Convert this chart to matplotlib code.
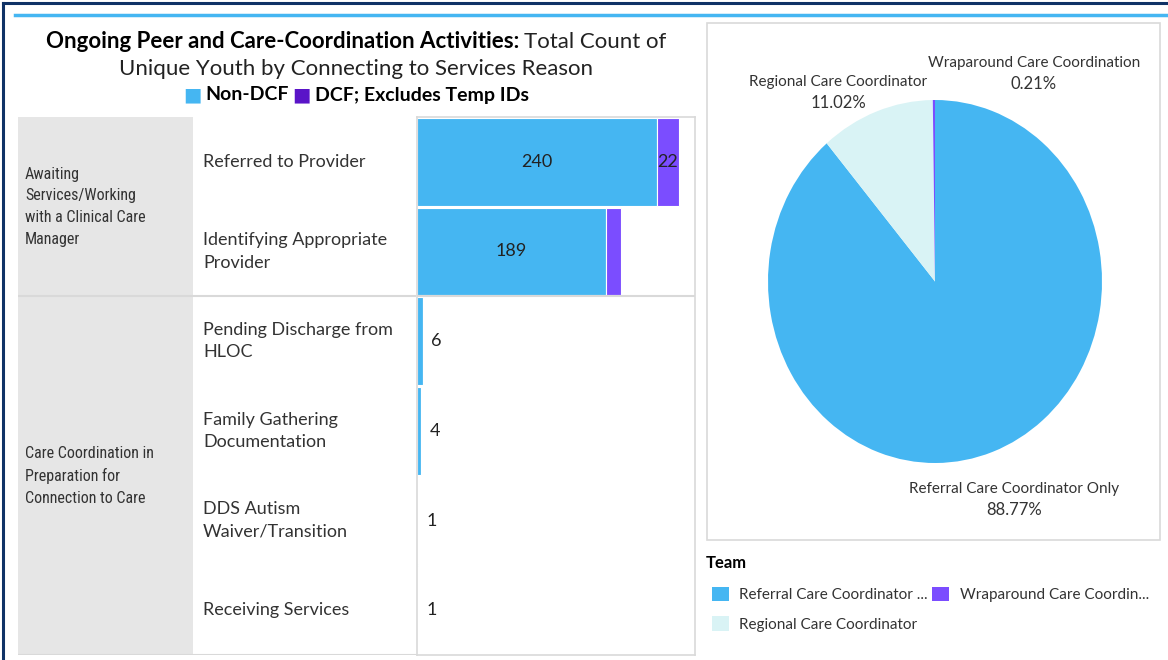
import matplotlib
matplotlib.use("Agg")
import matplotlib.pyplot as plt
from matplotlib.patches import Rectangle, Patch
from matplotlib.lines import Line2D
import numpy as np

# ---------------- data ----------------
categories = ['Referred to Provider', 'Identifying Appropriate\nProvider',
              'Pending Discharge from\nHLOC', 'Family Gathering\nDocumentation',
              'DDS Autism\nWaiver/Transition', 'Receiving Services']
groups = ['Awaiting\nServices/Working\nwith a Clinical Care\nManager',
          'Care Coordination in\nPreparation for\nConnection to Care']
group_sizes = [2, 4]
non_dcf = [240, 189, 6, 4, 1, 1]
dcf = [22, 15, 0, 0, 0, 0]

pie_labels = ['Referral Care Coordinator Only', 'Regional Care Coordinator',
              'Wraparound Care Coordination']
pie_pct = [88.77, 11.02, 0.21]
legend_labels = ['Referral Care Coordinator ...', 'Regional Care Coordinator',
                 'Wraparound Care Coordin...']

# ---------------- style ----------------
BLUE = '#45b6f2'
PURPLE = '#7b4dff'
DARKPURPLE = '#5a14c8'
LIGHT = '#d9f3f5'
GRAY = '#e6e6e6'
LINE = '#d9d9d9'
TXT = '#333333'
NAVY = '#0f3266'
FONT = ['Lato', 'DejaVu Sans']
NARROW = ['Roboto Condensed', 'Open Sans Condensed', 'DejaVu Sans']
plt.rcParams['font.family'] = FONT

W, H = 1168, 660
fig = plt.figure(figsize=(W / 100, H / 100), dpi=100)
fig.patch.set_facecolor('white')


def fy(y):
    return 1 - y / H


def fxx(x):
    return x / W


def add_ax(x0, y0, x1, y1, **kw):
    return fig.add_axes([x0 / W, 1 - y1 / H, (x1 - x0) / W, (y1 - y0) / H], **kw)


# ---------------- frame lines ----------------
fig.add_artist(Line2D([fxx(3), fxx(3)], [0, fy(3)], color=NAVY, lw=2.2))
fig.add_artist(Line2D([fxx(3), 1], [fy(3), fy(3)], color=NAVY, lw=2.2))
fig.add_artist(Line2D([fxx(15), 1], [fy(15), fy(15)], color=BLUE, lw=2.5))

# ---------------- title ----------------
renderer = fig.canvas.get_renderer()


def centered_line(pieces, cx, cy, size, gap=5):
    texts = []
    widths = []
    for s, color, weight in pieces:
        t = fig.text(0, fy(cy), s, color=color, fontweight=weight, fontsize=size,
                     ha='left', va='center', family=FONT)
        texts.append(t)
        widths.append(t.get_window_extent(renderer).width)
    total = sum(widths) + gap * (len(pieces) - 1)
    x = cx - total / 2
    for t, w in zip(texts, widths):
        t.set_x(fxx(x))
        x += w + gap


TS = 16
centered_line([('Ongoing Peer and Care-Coordination Activities:', 'black', 'bold'),
               ('Total Count of', '#222222', 'normal')], 356, 42, TS)
centered_line([('Unique Youth by Connecting to Services Reason', '#222222', 'normal')],
              356, 69, TS)
centered_line([('■', BLUE, 'bold'), ('Non-DCF', 'black', 'bold'),
               ('■', DARKPURPLE, 'bold'), ('DCF; Excludes Temp IDs', 'black', 'bold')],
              356, 95, 14, gap=4)

# ---------------- table (row headers) ----------------
n = len(categories)
ylo, yhi = n - 0.5, -0.5
tab = add_ax(18, 117, 416, 655)
tab.set_xlim(18, 416)
tab.set_ylim(ylo, yhi)
tab.axis('off')
tab.add_patch(Rectangle((18, -0.5), 175, n, facecolor=GRAY, edgecolor='none'))
start = 0
for g, size in zip(groups, group_sizes):
    mid = start + size / 2 - 0.5
    tab.text(25, mid, g, ha='left', va='center', fontsize=11.5, color=TXT,
             family=NARROW, linespacing=1.55)
    start += size
    tab.axhline(start - 0.5, color=LINE, lw=1.5)
for i, c in enumerate(categories):
    tab.text(203, i, c, ha='left', va='center', fontsize=13, color=TXT,
             linespacing=1.5)

# ---------------- bars ----------------
ax = add_ax(417, 117, 695, 655)
y = np.arange(n)
ax.barh(y, non_dcf, height=0.98, color=BLUE, edgecolor='white', linewidth=0.8)
ax.barh(y, dcf, left=non_dcf, height=0.98, color=PURPLE, edgecolor='white',
        linewidth=0.8)
ax.set_xlim(0, 278)
ax.set_ylim(ylo, yhi)
ax.set_xticks([])
ax.set_yticks([])
for s in ax.spines.values():
    s.set_color(LINE)
    s.set_linewidth(1.2)
ax.axhline(group_sizes[0] - 0.5, color=LINE, lw=1.5)
for i, (a, b) in enumerate(zip(non_dcf, dcf)):
    if a > 50:
        ax.text(a / 2, i, str(a), ha='center', va='center', fontsize=13, color='#222222')
    else:
        ax.annotate(str(a), (a, i), xytext=(6, 0), textcoords='offset points',
                    ha='left', va='center', fontsize=13, color='#222222')
    if b >= 20:
        ax.text(a + b / 2, i, str(b), ha='center', va='center', fontsize=13,
                color='#222222')

# ---------------- pie ----------------
fig.add_artist(Rectangle((fxx(707), fy(540)), (1160 - 707) / W, (540 - 23) / H,
                         transform=fig.transFigure, facecolor='none',
                         edgecolor=LINE, lw=1.2))
cx, cy, rx, ry = 935, 281.5, 167, 181.5
pax = add_ax(cx - rx, cy - ry, cx + rx, cy + ry)
pax.pie(pie_pct, colors=[BLUE, LIGHT, PURPLE], startangle=90, counterclock=False,
        radius=1, wedgeprops=dict(linewidth=0))
pax.set_aspect('auto')
pax.set_xlim(-1, 1)
pax.set_ylim(-1, 1)
pax.axis('off')

lab_pos = [(1014, 489), (838, 82), (1034, 63)]
for lab, p, (lx, ly) in zip(pie_labels, pie_pct, lab_pos):
    fig.text(fxx(lx), fy(ly), lab, ha='center', va='center', fontsize=11, color=TXT)
    fig.text(fxx(lx), fy(ly + 21), f'{p:.2f}%', ha='center', va='center',
             fontsize=12, color=TXT)

# ---------------- legend ----------------
fig.text(fxx(706), fy(563), 'Team', ha='left', va='center', fontsize=12,
         fontweight='bold', color='black')
handles = [Patch(facecolor=c, edgecolor='none') for c in [BLUE, LIGHT, PURPLE]]
leg = fig.legend(handles, legend_labels, ncol=2, loc='upper left',
                 bbox_to_anchor=(fxx(698), fy(573)), frameon=False, fontsize=11,
                 handlelength=1.1, handleheight=1.1, handletextpad=0.7,
                 columnspacing=0.3, labelspacing=0.92)
for t in leg.get_texts():
    t.set_color(TXT)

fig.savefig('out.png', dpi=100)
